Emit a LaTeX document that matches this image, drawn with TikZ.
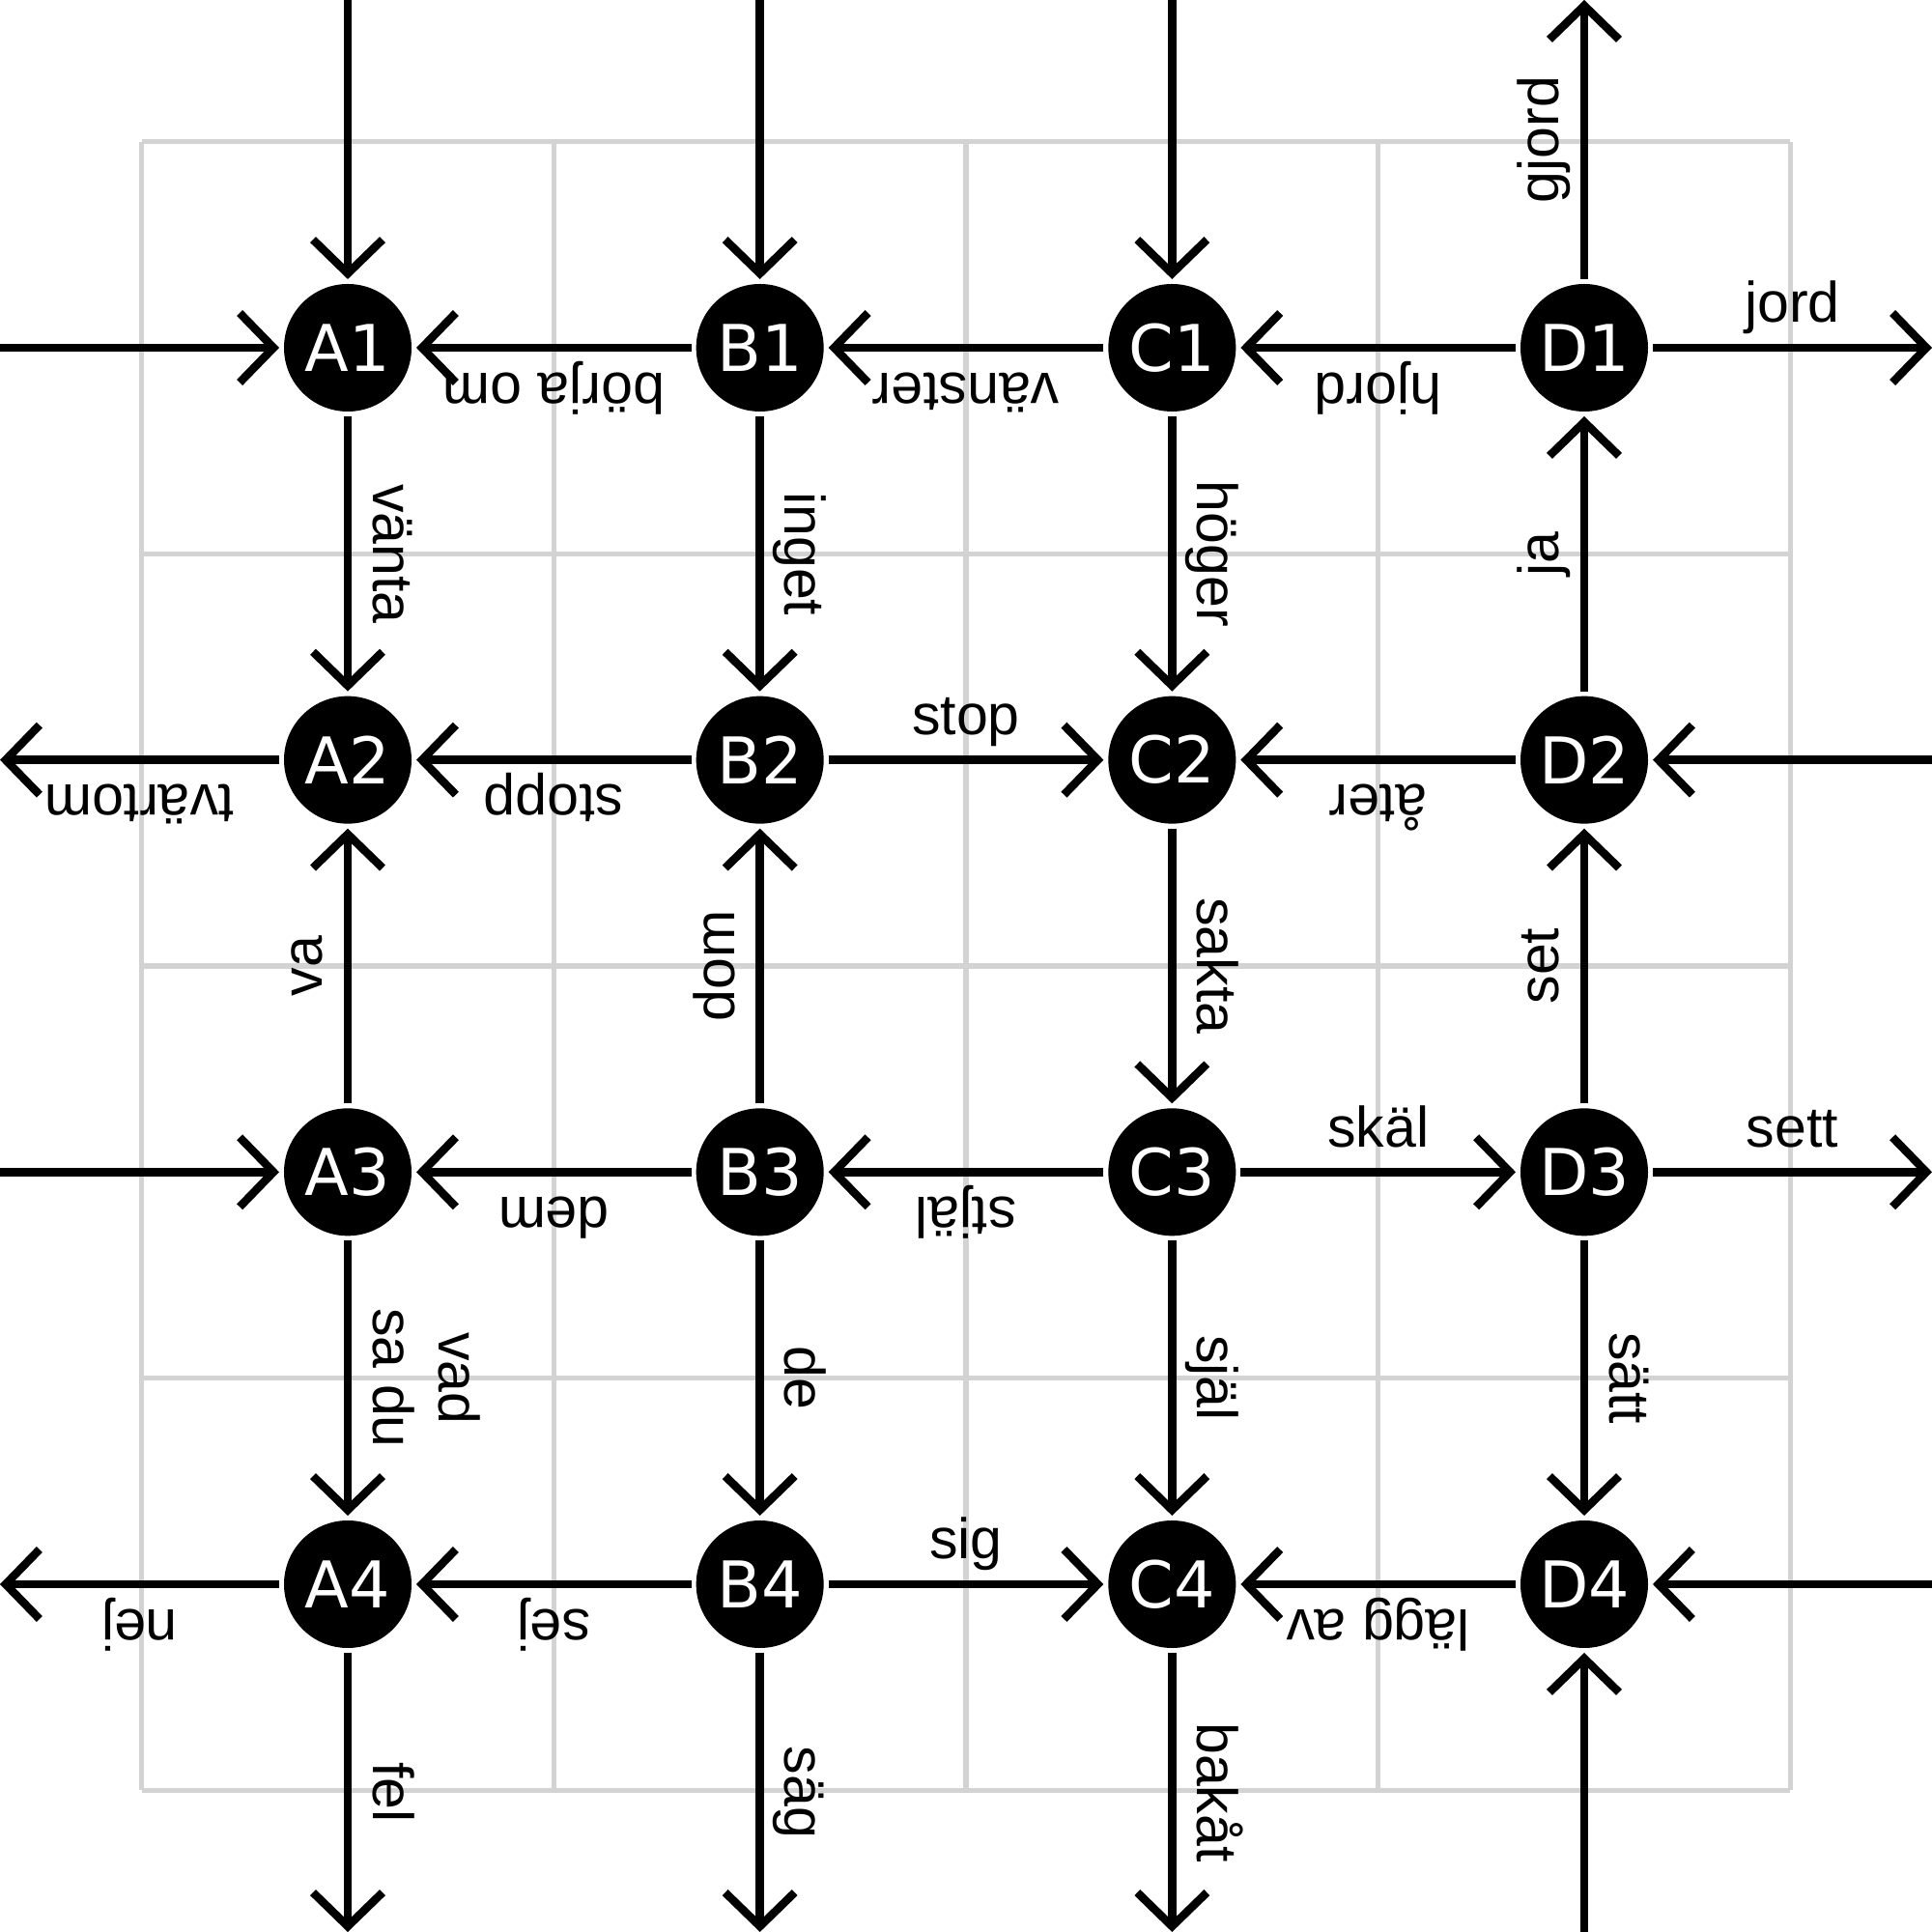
\documentclass[tikz,border=0pt]{standalone}
\usepackage{fontspec}
\newfontfamily\lblfont{Liberation Sans}
\newfontfamily\nodefont{DejaVu Sans}
\usetikzlibrary{arrows.meta}
\definecolor{gridgray}{HTML}{D3D3D3}
\begin{document}
\begin{tikzpicture}[
  st/.style={circle, fill=black, minimum size=1.32cm, inner sep=0pt, outer sep=0.05cm,
    text=white, font=\nodefont\fontsize{19}{22}\selectfont},
  ed/.style={line width=2.4pt, -{Straight Barb[length=0.35cm, width=0.72cm]}},
  lb/.style={midway, sloped, allow upside down, anchor=south, inner xsep=0pt,
    inner ysep=0.22cm, text depth=0pt, align=center,
    font=\lblfont\fontsize{16.8}{19.3}\selectfont},
  gridline/.style={draw=gridgray, line width=1.6pt}
]
\useasboundingbox (0,0) rectangle (20,20);
% grid
\foreach \g in {1.4667,5.7333,10,14.2667,18.5333}{
  \draw[gridline] (\g,1.4667) -- (\g,18.5333);
  \draw[gridline] (1.4667,\g) -- (18.5333,\g);
}
% nodes
\node[st] (A1) at (3.6,16.4) {A1};
\node[st] (B1) at (7.8667,16.4) {B1};
\node[st] (C1) at (12.1333,16.4) {C1};
\node[st] (D1) at (16.4,16.4) {D1};
\node[st] (A2) at (3.6,12.1333) {A2};
\node[st] (B2) at (7.8667,12.1333) {B2};
\node[st] (C2) at (12.1333,12.1333) {C2};
\node[st] (D2) at (16.4,12.1333) {D2};
\node[st] (A3) at (3.6,7.8667) {A3};
\node[st] (B3) at (7.8667,7.8667) {B3};
\node[st] (C3) at (12.1333,7.8667) {C3};
\node[st] (D3) at (16.4,7.8667) {D3};
\node[st] (A4) at (3.6,3.6) {A4};
\node[st] (B4) at (7.8667,3.6) {B4};
\node[st] (C4) at (12.1333,3.6) {C4};
\node[st] (D4) at (16.4,3.6) {D4};
% border coordinates
\coordinate (L1) at (0,16.4);
\coordinate (L2) at (0,12.1333);
\coordinate (L3) at (0,7.8667);
\coordinate (L4) at (0,3.6);
\coordinate (R1) at (20,16.4);
\coordinate (R2) at (20,12.1333);
\coordinate (R3) at (20,7.8667);
\coordinate (R4) at (20,3.6);
\coordinate (TA) at (3.6,20);
\coordinate (TB) at (7.8667,20);
\coordinate (TC) at (12.1333,20);
\coordinate (TD) at (16.4,20);
\coordinate (BA) at (3.6,0);
\coordinate (BB) at (7.8667,0);
\coordinate (BC) at (12.1333,0);
\coordinate (BD) at (16.4,0);
% row 1
\draw[ed] (L1) -- (A1);
\draw[ed] (B1) -- (A1) node[lb] {börja om};
\draw[ed] (C1) -- (B1) node[lb] {vänster};
\draw[ed] (D1) -- (C1) node[lb] {hjord};
\draw[ed] (D1) -- (R1) node[lb] {jord};
% row 2
\draw[ed] (A2) -- (L2) node[lb] {tvärtom};
\draw[ed] (B2) -- (A2) node[lb] {stopp};
\draw[ed] (B2) -- (C2) node[lb] {stop};
\draw[ed] (D2) -- (C2) node[lb] {åter};
\draw[ed] (R2) -- (D2);
% row 3
\draw[ed] (L3) -- (A3);
\draw[ed] (B3) -- (A3) node[lb] {dem};
\draw[ed] (C3) -- (B3) node[lb] {stjäl};
\draw[ed] (C3) -- (D3) node[lb] {skäl};
\draw[ed] (D3) -- (R3) node[lb] {sett};
% row 4
\draw[ed] (A4) -- (L4) node[lb] {nej};
\draw[ed] (B4) -- (A4) node[lb] {sej};
\draw[ed] (B4) -- (C4) node[lb] {sig};
\draw[ed] (D4) -- (C4) node[lb] {lägg av};
\draw[ed] (R4) -- (D4);
% column A
\draw[ed] (TA) -- (A1);
\draw[ed] (A1) -- (A2) node[lb] {vänta};
\draw[ed] (A3) -- (A2) node[lb] {va};
\draw[ed] (A3) -- (A4) node[lb] {vad\\sa du};
\draw[ed] (A4) -- (BA) node[lb] {fel};
% column B
\draw[ed] (TB) -- (B1);
\draw[ed] (B1) -- (B2) node[lb] {inget};
\draw[ed] (B3) -- (B2) node[lb] {dom};
\draw[ed] (B3) -- (B4) node[lb] {de};
\draw[ed] (B4) -- (BB) node[lb] {säg};
% column C
\draw[ed] (TC) -- (C1);
\draw[ed] (C1) -- (C2) node[lb] {höger};
\draw[ed] (C2) -- (C3) node[lb] {sakta};
\draw[ed] (C3) -- (C4) node[lb] {själ};
\draw[ed] (C4) -- (BC) node[lb] {bakåt};
% column D
\draw[ed] (D1) -- (TD) node[lb] {gjord};
\draw[ed] (D2) -- (D1) node[lb] {ja};
\draw[ed] (D3) -- (D2) node[lb] {set};
\draw[ed] (D3) -- (D4) node[lb] {sätt};
\draw[ed] (BD) -- (D4);
\end{tikzpicture}
\end{document}
